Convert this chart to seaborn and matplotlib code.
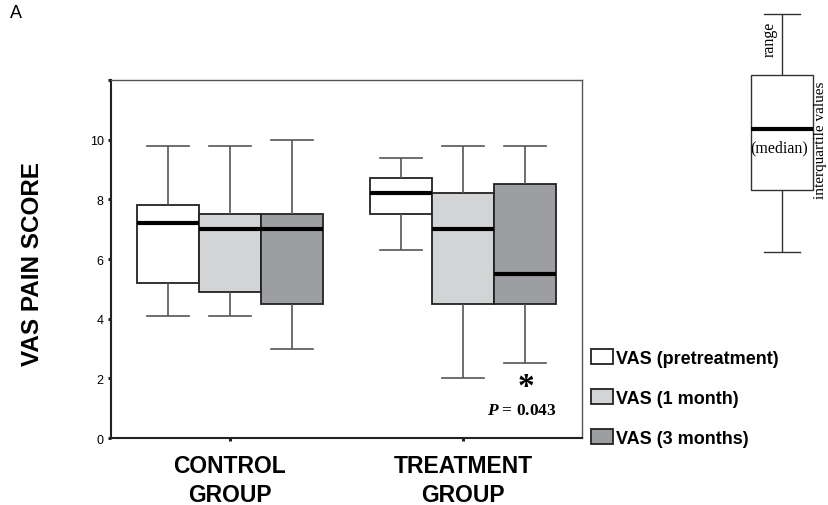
import matplotlib.pyplot as plt
import numpy as np
import pandas as pd
import seaborn as sns

plt.rcParams['font.family'] = ['Liberation Sans', 'DejaVu Sans']
plt.rcParams['mathtext.fontset'] = 'custom'
plt.rcParams['mathtext.bfit'] = 'Liberation Serif:italic:bold'
plt.rcParams['mathtext.bf'] = 'Liberation Serif:bold'

groups = ['CONTROL\nGROUP', 'TREATMENT\nGROUP']
periods = ['VAS (pretreatment)', 'VAS (1 month)', 'VAS (3 months)']
colors = ['#ffffff', '#d3d4d6', '#9d9ea2']

# min, q1, median, q3, max
control_pre = [4.1, 5.2, 7.2, 7.8, 9.8]
control_1m = [4.1, 4.9, 7.0, 7.5, 9.8]
control_3m = [3.0, 4.5, 7.0, 7.5, 10.0]
treat_pre = [6.3, 7.5, 8.2, 8.7, 9.4]
treat_1m = [2.0, 4.5, 7.0, 8.2, 9.8]
treat_3m = [2.5, 4.5, 5.5, 8.5, 9.8]

# the little explanatory box on the right
key_box = [0, 2.6, 5.16, 7.43, 10]

summaries = {
    (groups[0], periods[0]): control_pre,
    (groups[0], periods[1]): control_1m,
    (groups[0], periods[2]): control_3m,
    (groups[1], periods[0]): treat_pre,
    (groups[1], periods[1]): treat_1m,
    (groups[1], periods[2]): treat_3m,
}
rows = []
for (g, p), vals in summaries.items():
    for v in vals:
        rows.append({'group': g, 'period': p, 'vas': v})
df = pd.DataFrame(rows)

fig = plt.figure(figsize=(8.29, 5.06), dpi=100)
ax = fig.add_axes([0.1339, 0.1324, 0.5682, 0.7075])

sns.boxplot(data=df, x='group', y='vas', hue='period', order=groups, hue_order=periods,
            palette=colors, saturation=1, whis=(0, 100), width=0.8, gap=0,
            linecolor='#222222', linewidth=1.3, showfliers=False, capwidths=0.18,
            medianprops=dict(color='black', linewidth=3),
            whiskerprops=dict(color='#555555', linewidth=1.2),
            capprops=dict(color='#555555', linewidth=1.2),
            ax=ax)

ax.set_ylim(0, 12)
ax.set_xlim(-0.51, 1.51)
ax.set_yticks([0, 2, 4, 6, 8, 10, 12], labels=['0', '2', '4', '6', '8', '10', ''])
ax.set_xlabel('')
ax.set_ylabel('')
ax.tick_params(axis='both', direction='out', length=2.2, width=2.2, color='#222222')
ax.tick_params(axis='y', labelsize=9, pad=3)
ax.tick_params(axis='x', labelsize=16.5, pad=9.5)
for lab in ax.get_xticklabels():
    lab.set_fontweight('bold')
    lab.set_linespacing(1.33)
for s in ['left', 'bottom']:
    ax.spines[s].set_color('#222222')
    ax.spines[s].set_linewidth(1.5)
for s in ['top', 'right']:
    ax.spines[s].set_color('#555555')
    ax.spines[s].set_linewidth(1.0)

sns.move_legend(ax, loc='upper left', bbox_to_anchor=(1.019, 0.249), frameon=False,
                title=None, prop=dict(weight='bold', size=13), handlelength=1.2,
                handleheight=0.9, handletextpad=0.2, labelspacing=1.24, borderpad=0,
                borderaxespad=0)

ax.text(1.267, 1.5, r'$\mathbf{*}$', fontsize=24, ha='center', va='baseline')
ax.text(1.253, 0.80, r'$\mathbfit{P}$ = 0.043', fontfamily='Liberation Serif',
        fontweight='bold', fontsize=12.5, ha='center', va='baseline')

fig.text(33 / 829, 1 - 264 / 506, 'VAS PAIN SCORE', rotation=90, fontsize=17.5,
         fontweight='bold', ha='center', va='center')
fig.text(10 / 829, 1 - 13 / 506, 'A', fontsize=13, va='center')

# key box
kx = fig.add_axes([747.9 / 829, 1 - 260.1 / 506, 68.2 / 829, 252.6 / 506])
sns.boxplot(y=key_box, ax=kx, width=1.0, color='white', saturation=1, whis=(0, 100),
            linecolor='#333333', linewidth=1.0, capwidths=0.58, showfliers=False,
            medianprops=dict(color='black', linewidth=3))
kx.set_xlim(-0.55, 0.55)
kx.set_ylim(-0.3, 10.3)
kx.axis('off')

fig.text(770 / 829, 1 - 39 / 506, 'range', rotation=90, fontfamily='Liberation Serif',
         fontsize=11.5, ha='center', va='center')
fig.text(779 / 829, 1 - 148 / 506, '(median)', fontfamily='Liberation Serif',
         fontsize=11.5, ha='center', va='center')
fig.text(821 / 829, 1 - 140 / 506, 'interquartile values', rotation=90,
         fontfamily='Liberation Serif', fontsize=11, ha='center', va='center')

fig.savefig('out.png', dpi=100)
